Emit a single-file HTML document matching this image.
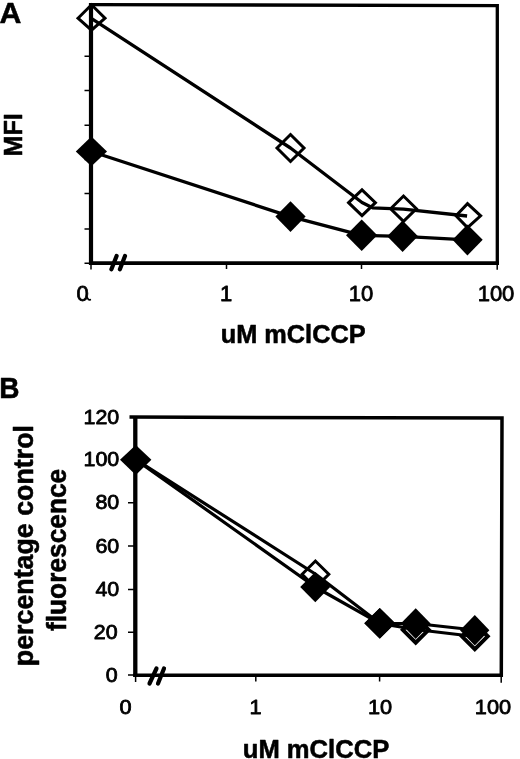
<!DOCTYPE html>
<html>
<head>
<meta charset="utf-8">
<title>Figure</title>
<style>
html,body{margin:0;padding:0;background:#fff;}
body{width:520px;height:759px;overflow:hidden;}
svg{display:block;filter:grayscale(1);}
text{font-family:"Liberation Sans",Arial,sans-serif;fill:#000;}
.b{font-weight:bold;}
.n{stroke:#000;stroke-width:0.8;stroke-linejoin:round;}
.b{stroke:#000;stroke-width:0.55;stroke-linejoin:round;}
</style>
</head>
<body>
<svg width="520" height="759" viewBox="0 0 520 759">
<rect x="0" y="0" width="520" height="759" fill="#fff"/>

<!-- ================= PANEL A ================= -->
<g id="panelA" stroke="#000" fill="none">
  <!-- frame -->
  <path d="M89 4.6 L497.3 5.6 V264.8" stroke-width="3.3" stroke-linejoin="miter"/>
  <path d="M91 3 V265" stroke-width="4.2"/>
  <path d="M89 263.2 H499" stroke-width="3.7"/>
  <!-- y ticks -->
  <g stroke-width="1.5">
    <path d="M84.5 56.3H91M84.5 90.5H91M84.5 125.2H91M84.5 159.5H91M84.5 193.6H91M84.5 229H91M84.5 263.2H91"/>
    <!-- x ticks -->
    <path d="M91 263V269.5M226.5 263V269M361.5 263V269M497.2 263V269.8"/>
  </g>
  <path d="M87.4 297.8 Q88.6 300.4 90.3 299.7" stroke-width="1.7" stroke-linecap="round"/>
  <!-- axis break -->
  <path d="M111.4 269.3 L116.6 256 M119.9 269.3 L125 256" stroke-width="4.2" stroke-linecap="round"/>
  <!-- series lines -->
  <polyline points="91.3,18.3 290.5,148 362,202.5 372.5,207.8 403.5,209.2 467.1,216" stroke-width="3.3" stroke-linejoin="round"/>
  <polyline points="91.3,151.5 290.5,216.6 361.7,235.4 402.6,236.4 467.1,239.8" stroke-width="3.3" stroke-linejoin="round"/>
  <!-- open markers -->
  <g stroke-width="3" stroke-linejoin="miter">
    <path d="M78 18.2 L91.5 4.8 L105 18.2 L91.5 30.2Z"/>
    <path d="M277 148 L290.5 134.5 L304 148 L290.5 161.5Z"/>
    <path d="M348.6 202.7 L362 189.8 L375.4 202.7 L362 215.6Z"/>
    <path d="M390.6 208.7 L403.5 196 L416.4 208.7 L403.5 221.4Z"/>
    <path d="M456 215.8 L467.5 203.6 L480.6 215.8 L467.5 227.6Z"/>
  </g>
  <!-- filled markers -->
  <g fill="#000" stroke="none">
    <path d="M75.8 151.5 L91.4 136.5 L107 151.5 L91.4 166.3Z"/>
    <path d="M275.4 216.6 L290.5 201.3 L305.6 216.6 L290.5 232Z"/>
    <path d="M346 235.3 L361.7 219.6 L377.3 235.3 L361.7 251Z"/>
    <path d="M387.2 236.3 L402.6 220.6 L418 236.3 L402.6 252Z"/>
    <path d="M452.5 239.7 L467.4 224.6 L482.7 239.7 L467.4 255.4Z"/>
  </g>
</g>
<text class="b" x="-0.6" y="22.6" font-size="30.3">A</text>
<text class="b" transform="translate(21.7,156.6) rotate(-90)" font-size="25.2">MFI</text>
<g class="n" font-size="22" text-anchor="middle">
  <text x="82.6" y="301.2">0</text>
  <text x="226" y="301.2">1</text>
  <text x="361" y="301.2">10</text>
  <text x="496" y="301.2">100</text>
</g>
<text class="b" x="220.8" y="343.4" font-size="25.3">uM mClCCP</text>

<!-- ================= PANEL B ================= -->
<g id="panelB" stroke="#000" fill="none">
  <!-- frame -->
  <path d="M129.5 417.1 L502 418 L501.3 677" stroke-width="3.5"/>
  <path d="M135.3 416 V677" stroke-width="4.3"/>
  <path d="M133.4 675.3 H503" stroke-width="3.4"/>
  <!-- y ticks -->
  <g stroke-width="1.5">
    <path d="M128 460H135M128 502.8H135M128 546H135M128 589.6H135M128 632.3H135M128 675H135"/>
    <path d="M135.6 675V682M255.8 675V681.5M379.6 675V681.5M501.2 675V682.7"/>
  </g>
  <!-- axis break -->
  <path d="M149.5 683.5 L156.5 668.5 M158 683.5 L164 668.5" stroke-width="4.2" stroke-linecap="round"/>
  <!-- open series -->
  <polyline points="135.8,459.6 315.3,574 379.7,623.3 415.7,629.5 474.8,636.5" stroke-width="3.2" stroke-linejoin="round"/>
  <g stroke-width="3">
    <path d="M302.1 574.3 L315.4 561 L328.8 574.3 L315.4 587.6Z"/>
    <path d="M366.6 623.3 L379.7 610.1 L392.9 623.3 L379.7 636.4Z"/>
    <path d="M402.8 629.8 L415.7 616.9 L428.6 629.8 L415.7 642.7Z" stroke-width="4"/>
    <path d="M461.9 636.3 L474.8 623.4 L487.7 636.3 L474.8 649.2Z" stroke-width="4"/>
  </g>
  <!-- filled series -->
  <polyline points="135.8,459.6 315.3,587 379.7,623.3 415.7,623.5 474.8,630" stroke-width="3.2" stroke-linejoin="round"/>
  <g fill="#000" stroke="none">
    <path d="M120 459.8 L135.8 445 L151.4 459.8 L135.8 475Z"/>
    <path d="M300.2 587 L315.3 572 L330.2 587 L315.3 602.2Z"/>
    <path d="M364.2 623.3 L379.8 607.9 L395.4 623.3 L379.8 638.8Z"/>
    <path d="M400.8 623.6 L415.7 608.3 L430.6 623.6 L415.7 639Z"/>
    <path d="M460 630.2 L474.8 615 L489.4 630.2 L474.8 645.5Z"/>
  </g>
</g>
<text class="b" transform="translate(-0.8,397.6) scale(0.94,1)" font-size="29.8">B</text>
<text class="b" transform="translate(32.7,666.2) rotate(-90)" font-size="26.8">percentage control</text>
<text class="b" transform="translate(65.9,631) rotate(-90) scale(1,1.05)" font-size="26.3">fluorescence</text>
<g class="n" font-size="20.6" text-anchor="end">
  <text transform="translate(119.2,423.6) scale(1.04,1)">120</text>
  <text transform="translate(119.2,465.9) scale(1.04,1)">100</text>
  <text transform="translate(119.2,509.2) scale(1.04,1)">80</text>
  <text transform="translate(119.2,553) scale(1.04,1)">60</text>
  <text transform="translate(119.2,596.4) scale(1.04,1)">40</text>
  <text transform="translate(117.6,638.9) scale(1.04,1)">20</text>
  <text transform="translate(117.6,682.1) scale(1.04,1)">0</text>
</g>
<g class="n" font-size="20.7" text-anchor="middle">
  <text transform="translate(125.5,714.3) scale(1.05,1)">0</text>
  <text transform="translate(255.6,714.3) scale(1.05,1)">1</text>
  <text transform="translate(380,714.3) scale(1.05,1)">10</text>
  <text transform="translate(493,714.3) scale(1.05,1)">100</text>
</g>
<text class="b" x="242.8" y="757.6" font-size="25.6">uM mClCCP</text>
</svg>
</body>
</html>
